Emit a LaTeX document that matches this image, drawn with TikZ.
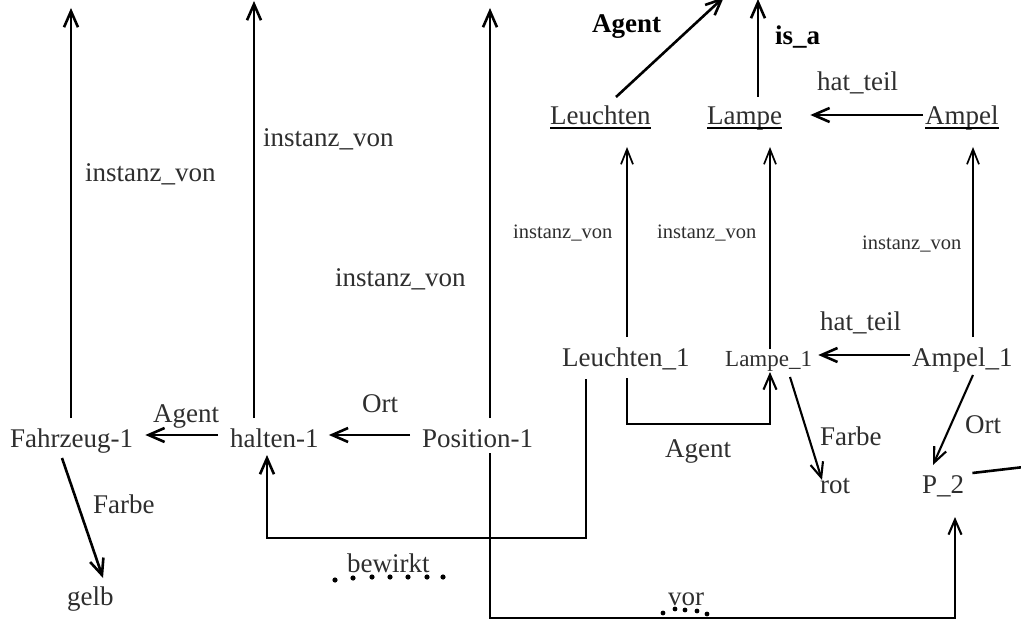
\documentclass[tikz,border=0pt]{standalone}
\usepackage{fontspec}
\setmainfont{Liberation Serif}
\usetikzlibrary{arrows.meta,calc}
\definecolor{txt}{HTML}{2E2E2E}
\begin{document}
\begin{tikzpicture}[x=1pt,y=-1pt,
  lbl/.style={anchor=base west,inner sep=0pt,text=txt,font=\fontsize{27}{32}\selectfont},
  lblsm/.style={lbl,font=\fontsize{23}{27}\selectfont},
  lbltiny/.style={lbl,font=\fontsize{20.5}{24}\selectfont},
  lblbf/.style={lbl,font=\fontsize{27}{32}\selectfont\bfseries,text=black},
  arr/.style={-{Straight Barb[length=16pt,width=14pt]},line width=2.6pt},
  arrm/.style={-{Straight Barb[length=15pt,width=13pt]},line width=2.1pt},
  arrthin/.style={-{Straight Barb[length=15pt,width=12pt]},line width=1.7pt},
  plain/.style={line width=2.6pt},
  dotmark/.style={fill=black}]
\useasboundingbox (0,0) rectangle (1021,623);

% ---- nodes (objects)
\node[lbl] (fz) at (10,447) {Fahrzeug-1};
\node[lbl] (ha) at (230,447) {halten-1};
\node[lbl] (po) at (422,447) {Position-1};
\node[lbl] (gelb) at (67,605) {gelb};
\node[lbl] (l1) at (562,366) {Leuchten\_1};
\node[lblsm] (la1) at (725,366) {Lampe\_1};
\node[lbl] (a1) at (912,366) {Ampel\_1};
\node[lbl] (rot) at (820,493) {rot};
\node[lbl] (p2) at (922,493) {P\_2};
\node[lbl] (leu) at (550,125) {Leuchten};
\node[lbl] (lam) at (707,125) {Lampe};
\node[lbl] (amp) at (925,125) {Ampel};

% underlines of the concepts
\draw[line width=1.8pt] ($(leu.base west)+(0,3)$) -- ($(leu.base east)+(0,3)$);
\draw[line width=1.8pt] ($(lam.base west)+(0,3)$) -- ($(lam.base east)+(0,3)$);
\draw[line width=1.8pt] ($(amp.base west)+(0,3)$) -- ($(amp.base east)+(0,3)$);

% ---- free ends (outside the visible region)
\coordinate (fzTop) at (71,8);
\coordinate (haTop) at (254,1);
\coordinate (poTop) at (490,8);
\coordinate (agTop) at (724,-3);
\coordinate (isaTop) at (758,-1);
\coordinate (p2R) at (1024,467);

% ---- edge labels
\node[lbl] (iv1) at (85,182) {instanz\_von};
\node[lbl] (iv2) at (263,147) {instanz\_von};
\node[lbl] (iv3) at (335,286) {instanz\_von};
\node[lbltiny] (iv4) at (513,239) {instanz\_von};
\node[lbltiny] (iv5) at (657,239) {instanz\_von};
\node[lbltiny] (iv6) at (862,250) {instanz\_von};
\node[lbl] (agL) at (153,422) {Agent};
\node[lbl] (ortL) at (362,412) {Ort};
\node[lbl] (farbeL) at (93,513) {Farbe};
\node[lbl] (bew) at (347,572) {bewirkt};
\node[lbl] (vor) at (668,605) {vor};
\node[lbl] (ht1) at (820,330) {hat\_teil};
\node[lbl] (agM) at (665,457) {Agent};
\node[lbl] (farbeR) at (820,445) {Farbe};
\node[lbl] (ortR) at (965,433) {Ort};
\node[lbl] (ht2) at (817,91) {hat\_teil};
\node[lblbf] (agB) at (592,33) {Agent};
\node[lblbf] (isa) at (775,45) {is\_a};

% ---- connectors, left part
\draw[arr] ($(fz.base west)+(61,-29)$) -- (fzTop);
\draw[arr] ($(ha.base west)+(24,-29)$) -- (haTop);
\draw[arr] ($(po.base west)+(68,-29)$) -- (poTop);
\draw[arr] ($(ha.base west)+(-12,-12)$) -- ($(fz.base east)+(12,-12)$);
\draw[arr] ($(po.base west)+(-12,-12)$) -- ($(ha.base east)+(10,-12)$);
\draw[arr] ($(fz.base west)+(52,11)$) -- ($(gelb.base west)+(36,-27)$);
\draw[arr] ($(l1.base west)+(24,13)$) |- ($(ha.base west)+(37,91)$) -- ($(ha.base west)+(37,8)$);
\draw[arrm] ($(po.base west)+(68,6)$) |- ($(p2.base west)+(33,125)$) -- ($(p2.base west)+(33,24)$);

% dotted marks under bewirkt and vor
\foreach \x/\y in {335/580,353/578,372/577,390/577,408/577,427/577,443/577}
  \fill[dotmark] (\x,\y) circle (2.6pt);
\foreach \x/\y in {663/613,675/609,685/610,697/611,707/614}
  \fill[dotmark] (\x,\y) circle (2.4pt);

% ---- connectors, right part
\draw[arrthin] ($(l1.base west)+(65,-29)$) -- ($(leu.base west)+(77,22)$);
\draw[arrthin] ($(la1.base west)+(45,-17)$) -- ($(lam.base west)+(63,22)$);
\draw[arrthin] ($(a1.base west)+(61,-29)$) -- ($(amp.base west)+(48,22)$);
\draw[arrm] ($(l1.base west)+(65,12)$) |- ($(la1.base west)+(45,58)$) -- ($(la1.base west)+(45,6)$);
\draw[arr] ($(a1.base west)+(-2,-11)$) -- ($(la1.base east)+(6,-11)$);
\draw[arrm] ($(la1.base west)+(65,11)$) -- ($(rot.base west)+(2,-13)$);
\draw[arrm] ($(a1.base west)+(61,9)$) -- ($(p2.base west)+(11,-28)$);
\draw[plain] ($(p2.base east)+(8,-20)$) -- (p2R);
\draw[arr] ($(amp.base west)+(-2,-10)$) -- ($(lam.base east)+(28,-10)$);
\draw[arr] ($(leu.base west)+(66,-28)$) -- (agTop);
\draw[arr] ($(lam.base west)+(51,-28)$) -- (isaTop);
\end{tikzpicture}
\end{document}
